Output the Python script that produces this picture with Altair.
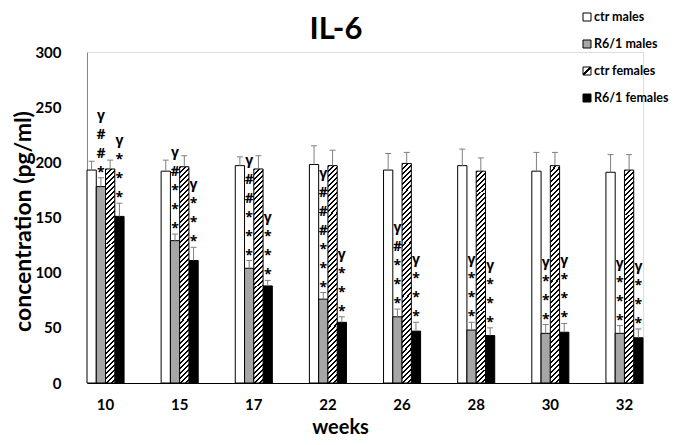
import altair as alt
import pandas as pd

FONT = "Lato, 'Open Sans', 'DejaVu Sans', sans-serif"
NOTE_FONT = "'Open Sans', 'DejaVu Sans', sans-serif"

weeks = ["10", "15", "17", "22", "26", "28", "30", "32"]
series = ["ctr males", "R6/1 males", "ctr females", "R6/1 females"]

ctr_males = [193, 192, 197, 198, 193, 197, 192, 191]
ctr_males_err = [8, 10, 8, 17, 15, 15, 17, 16]
r61_males = [178, 129, 104, 76, 60, 48, 45, 45]
r61_males_err = [8, 6, 7, 6, 7, 7, 8, 7]
ctr_females = [194, 196, 194, 197, 199, 192, 197, 193]
ctr_females_err = [8, 10, 12, 14, 10, 12, 12, 14]
r61_females = [151, 111, 88, 55, 47, 43, 46, 41]
r61_females_err = [12, 12, 5, 5, 8, 7, 8, 8]

r61_males_marks = ["γ\n#\n#\n*", "γ\n#\n*\n*\n*", "γ\n#\n#\n*\n*\n*", "γ\n#\n#\n#\n*\n*\n*",
                   "γ\n#\n*\n*\n*", "γ\n*\n*\n*", "γ\n*\n*\n*", "γ\n*\n*\n*"]
r61_females_marks = ["γ\n*\n*\n*", "γ\n*\n*\n*", "γ\n*\n*\n*", "γ\n*\n*\n*",
                     "γ\n*\n*\n*", "γ\n*\n*\n*", "γ\n*\n*\n*", "γ\n*\n*\n*"]

y_ticks = [0, 50, 100, 150, 200, 250, 300]

# ---- long table ----
rows = []
groups = [
    ("ctr males", ctr_males, ctr_males_err, None),
    ("R6/1 males", r61_males, r61_males_err, r61_males_marks),
    ("ctr females", ctr_females, ctr_females_err, None),
    ("R6/1 females", r61_females, r61_females_err, r61_females_marks),
]
for i, w in enumerate(weeks):
    for s, vals, errs, marks in groups:
        rows.append({"week": w, "series": s, "value": vals[i],
                     "top": vals[i] + errs[i],
                     "marks": marks[i] if marks else ""})
df = pd.DataFrame(rows)

# ---- geometry ----
W, H = 556, 331
PX_PER_UNIT = H / 300
LINE_H = 19

bar_w = W / 7.5 / 2 / 4
h0 = sum(ctr_females) / len(ctr_females) * PX_PER_UNIT
r = h0 / bar_w
k = (bar_w + h0) / (bar_w * (1 + r * r))
period = 5.0 / (bar_w + h0)
black = 2.0 / (bar_w + h0)
stops = []
t = 0.0
while t < 1.0:
    stops += [alt.GradientStop(offset=round(t, 5), color="white"),
              alt.GradientStop(offset=round(t, 5), color="black"),
              alt.GradientStop(offset=round(min(t + black, 1.0), 5), color="black"),
              alt.GradientStop(offset=round(min(t + black, 1.0), 5), color="white")]
    t += period
hatch = alt.LinearGradient(gradient="linear", x1=0, y1=0, x2=round(k, 5), y2=round(k * r, 5), stops=stops)

legend_hatch = alt.LinearGradient(
    gradient="linear", x1=0, y1=0, x2=1, y2=1,
    stops=[alt.GradientStop(offset=0, color="white"), alt.GradientStop(offset=0.38, color="white"),
           alt.GradientStop(offset=0.38, color="black"), alt.GradientStop(offset=0.62, color="black"),
           alt.GradientStop(offset=0.62, color="white"), alt.GradientStop(offset=1, color="white")])

fill_scale = alt.Scale(domain=series, range=["white", "#a6a6a6", "white", "black"])

x_enc = alt.X("week:N", sort=weeks, title="weeks",
              scale=alt.Scale(paddingInner=0.5, paddingOuter=0),
              axis=alt.Axis(labelFont=FONT, labelFontSize=15, labelFontWeight="bold", labelColor="black",
                            labelAngle=0, labelPadding=14, ticks=False, tickSize=0,
                            domainColor="black", domainWidth=1,
                            titleFont=FONT, titleFontSize=20, titleFontWeight="bold", titleColor="black",
                            titleX=253, titleY=44, titleBaseline="middle"))
xo_enc = alt.XOffset("series:N", scale=alt.Scale(domain=series))
y_axis = alt.Axis(values=y_ticks, labelFont=FONT, labelFontSize=15, labelFontWeight="bold",
                  labelColor="black", labelPadding=26, ticks=False, tickSize=0, grid=False,
                  domainColor="#868686", domainWidth=1,
                  titleFont=FONT, titleFontSize=23, titleFontWeight="bold", titleColor="black",
                  titleX=-64, titleY=169, titleBaseline="middle", titleAngle=-90)
y_scale = alt.Scale(domain=[0, 300], nice=False)


def yq(field):
    return alt.Y(f"{field}:Q", scale=y_scale, axis=y_axis, title="concentration (pg/ml)")


base = alt.Chart(df).encode(x=x_enc, xOffset=xo_enc)

solid = base.transform_filter(alt.datum.series != "ctr females").mark_bar(
    stroke="black", strokeWidth=1).encode(
    y=yq("value"), fill=alt.Fill("series:N", scale=fill_scale, legend=None))

hatched = base.transform_filter(alt.datum.series == "ctr females").mark_bar(
    fill=hatch, stroke="black", strokeWidth=1).encode(y=yq("value"))

err = base.mark_rule(color="#7f7f7f", strokeWidth=1).encode(y=yq("value"), y2="top:Q")
caps = base.mark_tick(color="#7f7f7f", thickness=1, size=6, orient="horizontal", opacity=1).encode(y=yq("top"))

notes = base.transform_filter(alt.datum.marks != "").transform_calculate(
    nlines="length(split(datum.marks, '\\n'))"
).transform_calculate(
    note_y=f"datum.top + (1 + (datum.nlines - 1) * {LINE_H}) / {PX_PER_UNIT}"
).mark_text(
    lineBreak="\n", baseline="alphabetic", font=NOTE_FONT, fontSize=14, fontWeight="bold",
    lineHeight=LINE_H, color="black").encode(y=yq("note_y"), text="marks:N")

main = alt.layer(solid, hatched, err, caps, notes)

# ---- legend ----
leg_df = pd.DataFrame({"series": series})
leg_y = alt.Y("series:N", sort=series, axis=None,
              scale=alt.Scale(type="point", domain=series, range=[-35, 46], padding=0))
leg_base = alt.Chart(leg_df).encode(y=leg_y)
leg_sym = leg_base.transform_filter(alt.datum.series != "ctr females").mark_square(
    size=64, stroke="black", strokeWidth=1, opacity=1).encode(
    x=alt.value(500), fill=alt.Fill("series:N", scale=fill_scale, legend=None))
leg_hatch = leg_base.transform_filter(alt.datum.series == "ctr females").mark_square(
    size=64, fill=legend_hatch, stroke="black", strokeWidth=1, opacity=1).encode(x=alt.value(500))
leg_text = leg_base.mark_text(align="left", baseline="middle", font=FONT, fontSize=12.5,
                              fontWeight="bold", color="black").encode(x=alt.value(507), text="series:N")
legend = alt.layer(leg_sym, leg_hatch, leg_text)

title_df = pd.DataFrame({"title": ["IL-6"]})
title = alt.Chart(title_df).mark_text(font=FONT, fontSize=31, fontWeight="bold", color="black",
                                      align="center", baseline="alphabetic").encode(
    x=alt.value(249), y=alt.value(-13), text="title:N")

chart = alt.layer(main, legend, title).resolve_scale(y="independent").properties(
    width=W, height=H, autosize=alt.AutoSizeParams(type="none"),
    padding={"left": 79, "top": 44, "right": 31, "bottom": 54},
).configure_view(stroke=None).configure(background="white")

chart.save("out.html", embed_options={"renderer": "svg", "actions": False})
